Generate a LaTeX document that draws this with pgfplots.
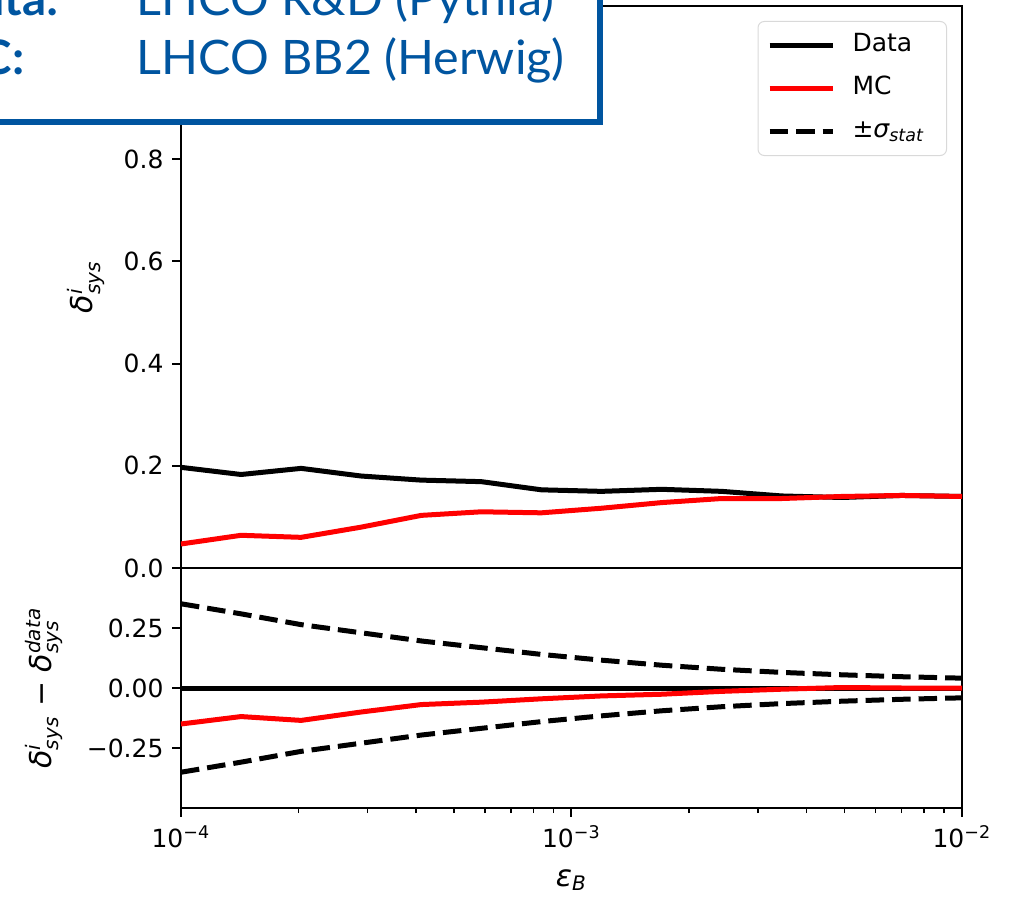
\documentclass[border=0pt]{standalone}
\usepackage{amsmath}
\usepackage{fontspec}
\setmainfont{DejaVu Sans}
\newfontfamily\boxfont{Lato}
\usepackage{pgfplots}
\usepackage{pgfplotstable}
\pgfplotsset{compat=1.18}
\definecolor{boxblue}{RGB}{0,85,160}
\definecolor{mcred}{RGB}{255,0,0}

% systematic shifts per background-efficiency working point
\pgfplotstableread{
eps        data   mc     zero   diff    sig
1.0000e-4  0.197  0.047  0.000  -0.150  0.351
1.4251e-4  0.183  0.064  0.000  -0.119  0.309
2.0309e-4  0.195  0.060  0.000  -0.135  0.264
2.8943e-4  0.180  0.080  0.000  -0.100  0.230
4.1246e-4  0.172  0.103  0.000  -0.069  0.196
5.8780e-4  0.169  0.110  0.000  -0.059  0.168
8.3768e-4  0.153  0.108  0.000  -0.045  0.140
1.1938e-3  0.150  0.117  0.000  -0.033  0.116
1.7013e-3  0.154  0.128  0.000  -0.026  0.095
2.4245e-3  0.150  0.136  0.000  -0.014  0.078
3.4551e-3  0.141  0.136  0.000  -0.005  0.065
4.9239e-3  0.138  0.140  0.000   0.002  0.055
7.0170e-3  0.142  0.142  0.000   0.000  0.047
1.0000e-2  0.140  0.140  0.000   0.000  0.041
}\results

\newcommand{\dsys}[1]{{\itshape δ}$^{\textit{#1}}_{\textit{sys}}$}
\newcommand{\labfont}{\fontsize{12}{14}\selectfont}

\pgfplotsset{
  panel/.style={
    scale only axis,
    width=312.4pt,
    xmin=1e-4, xmax=1e-2,
    axis line style={line width=0.8pt},
    tick align=outside, tick pos=left,
    major tick length=3.5pt, minor tick length=2pt,
    every tick/.style={black, line width=0.8pt},
    minor tick style={line width=0.6pt},
    tick label style={font=\fontsize{10}{12}\selectfont},
    label style={font=\labfont},
    clip=true,
  },
}

\begin{document}
\begin{tikzpicture}
\useasboundingbox (0,0) rectangle (406pt,358.8pt);

% upper panel: absolute systematic shift
\begin{semilogxaxis}[panel,
  at={(72.4pt,131.6pt)}, anchor=south west,
  height=224.8pt,
  ymin=0, ymax=1.1,
  xtick=\empty, xminorticks=false,
  ytick={0,0.2,0.4,0.6,0.8},
  yticklabels={0.0,0.2,0.4,0.6,0.8},
  ylabel={\dsys{i}},
  y label style={at={(axis description cs:-0.122,0.5)}, anchor=center},
  legend cell align=left,
  legend image code/.code={\draw[#1] (0pt,0pt) -- (25.2pt,0pt);},
  legend style={at={(0.9808,0.9733)}, anchor=north east,
    draw=black!15, rounded corners=2.5pt, fill=white,
    font=\fontsize{10}{12}\selectfont,
    inner xsep=3.6pt, inner ysep=4.6pt,
    row sep=7.2pt, column sep=0pt,
    nodes={inner sep=0pt, text height=7.5pt, text depth=2.5pt},
  },
]
\addplot[black, line width=2pt] table[x=eps, y=data] {\results};
\addlegendentry{\hspace{7pt}\makebox[34pt][l]{Data}}
\addplot[mcred, line width=2pt] table[x=eps, y=mc] {\results};
\addlegendentry{\hspace{7pt}\makebox[34pt][l]{MC}}
\addlegendimage{black, line width=2pt, dash pattern=on 7.4pt off 3.2pt}
\addlegendentry{\hspace{7pt}\makebox[34pt][l]{±{\itshape σ}$_{\textit{stat}}$}}
\end{semilogxaxis}

% lower panel: shift relative to data with statistical band
\begin{semilogxaxis}[panel,
  at={(72.4pt,35.6pt)}, anchor=south west,
  height=96pt,
  ymin=-0.5, ymax=0.5,
  xtick={1e-4,1e-3,1e-2},
  xticklabels={10$^{\text{−4}}$,10$^{\text{−3}}$,10$^{\text{−2}}$},
  ytick={-0.25,0,0.25},
  yticklabels={−0.25,0.00,0.25},
  ylabel={\dsys{i} − \dsys{data}},
  y label style={at={(axis description cs:-0.1754,0.5)}, anchor=center},
  xlabel={{\itshape ε}$_{\textit{B}}$},
  x label style={at={(axis description cs:0.5,-0.30)}, anchor=center},
]
\addplot[black, line width=2pt, dash pattern=on 7.4pt off 3.2pt] table[x=eps, y=sig] {\results};
\addplot[black, line width=2pt, dash pattern=on 7.4pt off 3.2pt] table[x=eps, y expr=-\thisrow{sig}] {\results};
\addplot[black, line width=2pt] table[x=eps, y=zero] {\results};
\addplot[mcred, line width=2pt] table[x=eps, y=diff] {\results};
\end{semilogxaxis}

% sample description box
\draw[boxblue, line width=2.4pt, fill=white] (-10pt,309.8pt) rectangle (240pt,370pt);
\node[boxblue, anchor=base east, inner sep=0pt, font=\boxfont\bfseries\fontsize{19}{21}\selectfont] at (23.6pt,352.4pt) {Data:};
\node[boxblue, anchor=base east, inner sep=0pt, font=\boxfont\bfseries\fontsize{19}{21}\selectfont] at (10pt,328.8pt) {MC:};
\node[boxblue, anchor=base west, inner sep=0pt, font=\boxfont\fontsize{19}{21}\selectfont] at (54.4pt,352.4pt) {\scalebox{1.02}[1]{LHCO R\&D (Pythia)}};
\node[boxblue, anchor=base west, inner sep=0pt, font=\boxfont\fontsize{19}{21}\selectfont] at (54.4pt,328.8pt) {\scalebox{1.02}[1]{LHCO BB2 (Herwig)}};
\end{tikzpicture}
\end{document}
